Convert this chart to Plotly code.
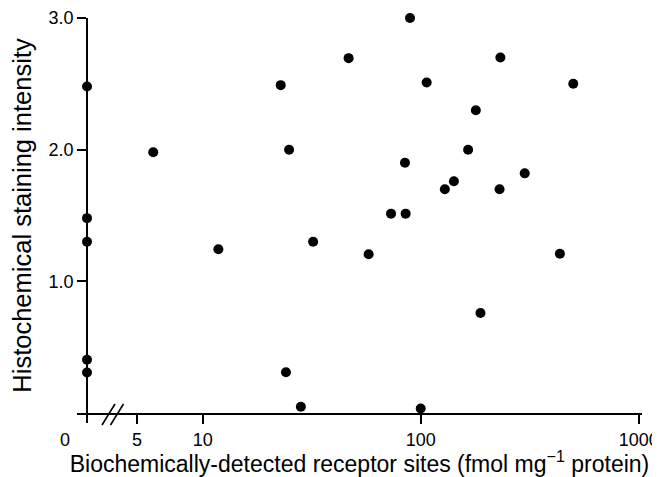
import plotly.graph_objects as go

# Data
zero_x = [0, 0, 0, 0, 0]
zero_y = [2.48, 1.48, 1.30, 0.405, 0.307]

sites = [5.93, 11.8, 22.8, 24.9, 24.1, 28.2, 32.1, 46.7, 57.7, 73.1, 84.7, 85.3,
         89.3, 100, 106.5, 129, 142, 165, 179, 188, 230, 232, 300, 435, 501]
intensity = [1.98, 1.244, 2.49, 2.0, 0.31, 0.047, 1.30, 2.695, 1.206, 1.514, 1.90, 1.514,
             3.0, 0.034, 2.51, 1.70, 1.76, 2.0, 2.30, 0.76, 1.70, 2.70, 1.82, 1.21, 2.50]

x_tickvals = [5, 10, 100, 1000]
x_ticktext = ["5", "10", "100", "1000"]
y_tickvals = [1, 2, 3]
y_ticktext = ["1.0", "2.0", "3.0"]

# The page body has an 8px margin; the figure is sized to fit the 660x477 window.
OFF = 8
W, H = 660 - OFF, 477 - OFF
ML, MR, MT, MB = 77 - OFF, 18, 18 - OFF, 64
PW = W - ML - MR
PH = H - MT - MB

FONT = "Liberation Sans, Arial, sans-serif"

fig = go.Figure()
fig.add_trace(go.Scatter(x=sites, y=intensity, mode="markers", xaxis="x", yaxis="y",
                         marker=dict(size=10, color="black"), cliponaxis=False,
                         showlegend=False, hoverinfo="skip"))
fig.add_trace(go.Scatter(x=zero_x, y=zero_y, mode="markers", xaxis="x2", yaxis="y",
                         marker=dict(size=10, color="black"), cliponaxis=False,
                         showlegend=False, hoverinfo="skip"))

# window-pixel helpers for the axis-break decoration only
def px(p):
    return (p - 77) / PW

def py(p):
    return (413 - p) / PH

shapes = []
for x0 in (102, 110.5):
    shapes.append(dict(type="line", xref="paper", yref="paper",
                       x0=px(x0), y0=py(425), x1=px(x0 + 13), y1=py(404),
                       line=dict(color="black", width=1.6)))

axis_common = dict(showgrid=False, zeroline=False, linecolor="black", linewidth=1.6,
                   ticks="outside", ticklen=9, tickwidth=1.6, tickcolor="black",
                   tickfont=dict(family=FONT, size=18, color="black"))

fig.update_layout(
    width=W, height=H, margin=dict(l=ML, r=MR, t=MT, b=MB, autoexpand=False),
    paper_bgcolor="white", plot_bgcolor="white",
    xaxis=dict(type="log", range=[0.4234, 3.0151], tickvals=x_tickvals, ticktext=x_ticktext,
               showline=True, ticklabelstandoff=1,
               title=dict(text="Biochemically-detected receptor sites (fmol mg<sup>\u22121</sup> protein)",
                          font=dict(family=FONT, size=23, color="black"), standoff=3),
               **axis_common),
    xaxis2=dict(type="linear", overlaying="x", anchor="y", side="bottom", range=[-10, PW - 10],
                tickvals=[0], ticktext=["0"], ticklabelshift=-22, showline=False,
                ticklabelstandoff=1, **axis_common),
    yaxis=dict(range=[0, 3.0], anchor="free", position=px(87), tickvals=y_tickvals,
               ticktext=y_ticktext, showline=True, ticklabelstandoff=0,
               title=dict(text="Histochemical staining intensity",
                          font=dict(family=FONT, size=25.5, color="black"), standoff=12),
               **axis_common),
    shapes=shapes,
)

fig.write_html("out.html")
